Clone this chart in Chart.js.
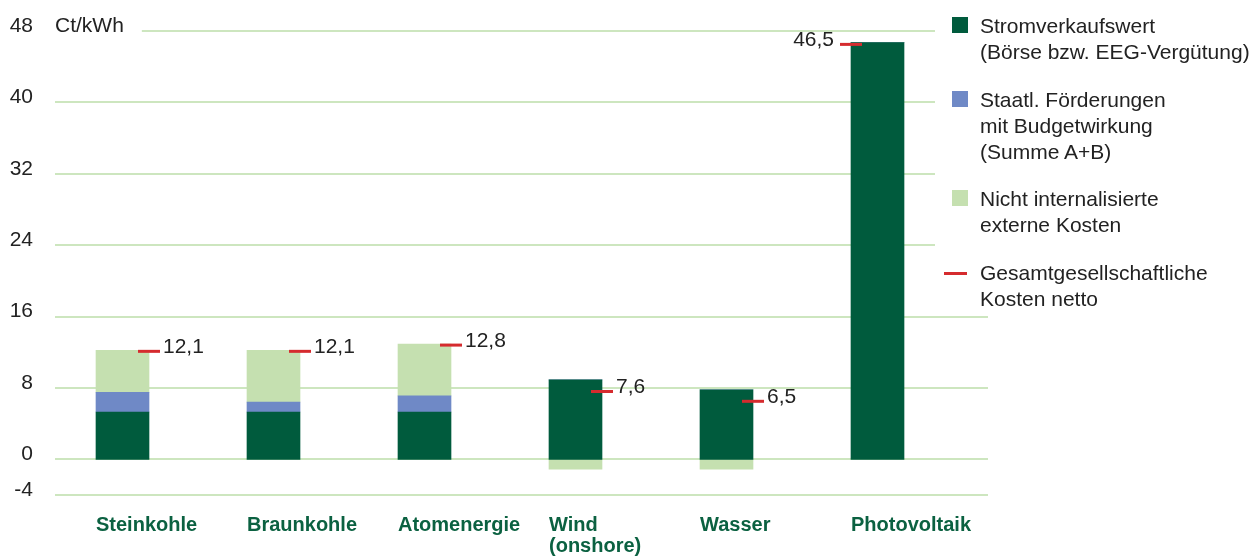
<!DOCTYPE html>
<html>
<head>
<meta charset="utf-8">
<script src="https://cdn.jsdelivr.net/npm/chart.js@4.4.1/dist/chart.umd.min.js"></script>
<style>
  html, body { margin: 0; padding: 0; background: #fff; }
  #wrap { position: relative; width: 1251px; height: 556px; overflow: hidden; }
  #legend {
    position: absolute; left: 944px; top: 0;
    font-family: "Liberation Sans", Arial, sans-serif; font-size: 21px; color: #222;
  }
  .item { position: absolute; left: 0; width: 307px; line-height: 26px; white-space: nowrap; }
  .sw { position: absolute; left: 8px; top: 4px; width: 16px; height: 16px; }
  .dash { position: absolute; left: 0; top: 12px; width: 23px; height: 3px; background: #d52b2e; }
  .txt { position: absolute; left: 36px; top: 0; }
</style>
</head>
<body>
<div id="wrap">
  <canvas id="costChart" width="1251" height="556"></canvas>
  <div id="legend"></div>
</div>
<script>
"use strict";

/* ── Data ─────────────────────────────────────────────────────────────── */
const categories = ["Steinkohle", "Braunkohle", "Atomenergie", ["Wind", "(onshore)"], "Wasser", "Photovoltaik"];
const salesValue = [5.3, 5.3, 5.3, 8.9, 7.8, 46.7];      // Stromverkaufswert
const stateSubsidies = [2.2, 1.1, 1.8, 0, 0, 0];         // Staatl. Förderungen
const externalCosts = [4.7, 5.8, 5.8, -1.1, -1.1, 0];    // nicht internalisierte externe Kosten
const netCosts = [12.1, 12.1, 12.8, 7.6, 6.5, 46.5];     // gesamtgesellschaftliche Kosten netto
const netLabels = ["12,1", "12,1", "12,8", "7,6", "6,5", "46,5"];
const yTicks = [48, 40, 32, 24, 16, 8, 0, -4];
const unitLabel = "Ct/kWh";

const legendItems = [
  { text: ["Stromverkaufswert", "(Börse bzw. EEG-Vergütung)"], color: "#005b3d" },
  { text: ["Staatl. Förderungen", "mit Budgetwirkung", "(Summe A+B)"], color: "#6f89c6" },
  { text: ["Nicht internalisierte", "externe Kosten"], color: "#c5e0b0" },
  { text: ["Gesamtgesellschaftliche", "Kosten netto"], color: "#d52b2e", dash: true },
];

const FONT = '"Liberation Sans", Arial, sans-serif';
const TEXT = "#222222";

/* ── Plugins ──────────────────────────────────────────────────────────── */
// gridlines with uneven extents, plus the unit label next to the top line
const gridLines = {
  id: "gridLines",
  beforeDatasetsDraw(chart) {
    const { ctx, chartArea } = chart;
    const y = chart.scales.y;
    ctx.save();
    ctx.font = "21px " + FONT;
    const unitX = chartArea.left + 8;
    const unitEnd = unitX + ctx.measureText(unitLabel).width;
    ctx.strokeStyle = "#cde6bf";
    ctx.lineWidth = 2;
    yTicks.forEach((v, i) => {
      const py = Math.round(y.getPixelForValue(v));
      const x0 = i === 0 ? unitEnd + 18 : unitX;
      const x1 = v > 16 ? chartArea.right - 18 : chartArea.right + 35;
      ctx.beginPath();
      ctx.moveTo(x0, py);
      ctx.lineTo(x1, py);
      ctx.stroke();
    });
    ctx.fillStyle = TEXT;
    ctx.textBaseline = "middle";
    ctx.fillText(unitLabel, unitX, y.getPixelForValue(yTicks[0]) - 5);
    ctx.restore();
  },
};

// red net-cost markers on the bar edge, value written beside them
const netCostMarkers = {
  id: "netCostMarkers",
  afterDatasetsDraw(chart) {
    const { ctx } = chart;
    const y = chart.scales.y;
    const bars = chart.getDatasetMeta(0).data;
    ctx.save();
    ctx.font = "21px " + FONT;
    ctx.fillStyle = TEXT;
    ctx.textBaseline = "alphabetic";
    netCosts.forEach((v, i) => {
      const bar = bars[i];
      const onLeft = i === netCosts.length - 1;
      const edge = onLeft ? bar.x - bar.width / 2 : bar.x + bar.width / 2;
      const py = y.getPixelForValue(v);
      ctx.strokeStyle = "#d52b2e";
      ctx.lineWidth = 3;
      ctx.beginPath();
      ctx.moveTo(edge - 11, py);
      ctx.lineTo(edge + 11, py);
      ctx.stroke();
      ctx.textAlign = onLeft ? "right" : "left";
      ctx.fillText(netLabels[i], onLeft ? edge - 17 : edge + 14, py + 2);
    });
    ctx.restore();
  },
};

/* ── Chart ────────────────────────────────────────────────────────────── */
function initCostChart() {
  const ctx = document.getElementById("costChart").getContext("2d");
  const bar = (label, data, color) => ({
    label, data, backgroundColor: color, borderWidth: 0, barThickness: 53,
  });

  new Chart(ctx, {
    type: "bar",
    data: {
      labels: categories,
      datasets: [
        bar("Stromverkaufswert", salesValue, legendItems[0].color),
        bar("Staatl. Förderungen", stateSubsidies, legendItems[1].color),
        bar("Externe Kosten", externalCosts, legendItems[2].color),
      ],
    },
    options: {
      responsive: false,
      animation: false,
      layout: { padding: { top: 31, right: 298, bottom: 0, left: 0 } },
      plugins: { legend: { display: false }, tooltip: { enabled: false } },
      scales: {
        x: {
          stacked: true,
          grid: { display: false, drawTicks: false },
          border: { display: false },
          afterFit: (s) => { s.height = 61; },
          ticks: {
            color: "#0b6141",
            font: { family: FONT, size: 20, weight: "bold", lineHeight: 1.05 },
            align: "start",
            labelOffset: -26.5,
            padding: 20,
            maxRotation: 0,
            autoSkip: false,
          },
        },
        y: {
          stacked: true,
          min: -4,
          max: 48,
          grid: { display: false, drawTicks: false },
          border: { display: false },
          afterFit: (s) => { s.width = 47; },
          afterBuildTicks: (s) => { s.ticks = yTicks.map((v) => ({ value: v })); },
          ticks: {
            color: TEXT,
            font: { family: FONT, size: 21 },
            padding: 14,
            labelOffset: -5,
            callback: (v) => String(v),
          },
        },
      },
    },
    plugins: [gridLines, netCostMarkers],
  });
}

/* ── Legend (HTML) ────────────────────────────────────────────────────── */
function buildLegend() {
  const tops = [13, 87, 186, 260];
  const box = document.getElementById("legend");
  legendItems.forEach((item, i) => {
    const el = document.createElement("div");
    el.className = "item";
    el.style.top = tops[i] + "px";
    const mark = document.createElement("div");
    mark.className = item.dash ? "dash" : "sw";
    mark.style.background = item.color;
    const txt = document.createElement("div");
    txt.className = "txt";
    txt.innerHTML = item.text.join("<br>");
    el.appendChild(mark);
    el.appendChild(txt);
    box.appendChild(el);
  });
}

document.addEventListener("DOMContentLoaded", () => {
  initCostChart();
  buildLegend();
});
</script>
</body>
</html>
